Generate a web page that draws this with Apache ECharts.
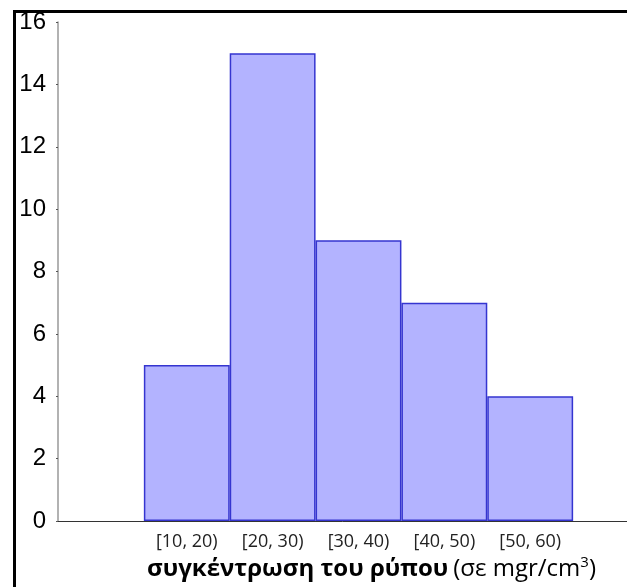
<!DOCTYPE html>
<html>
<head>
<meta charset="utf-8">
<script src="https://cdn.jsdelivr.net/npm/echarts@6/dist/echarts.min.js"></script>
<style>
html, body { margin: 0; padding: 0; background: #fff; }
#chart { width: 627px; height: 587px; }
</style>
</head>
<body>
<div id="chart"></div>
<script>
// κλάσεις συγκέντρωσης (κενές θέσεις αριστερά/δεξιά για το κενό του άξονα)
var categories = ['', '[10, 20)', '[20, 30)', '[30, 40)', '[40, 50)', '[50, 60)', '']
var counts = [null, 5, 15, 9, 7, 4, null]
var yTicks = { min: 0, max: 16, interval: 2 }

var chart = echarts.init(document.getElementById('chart'))
chart.setOption({
  animation: false,
  backgroundColor: '#fff',
  title: {
    left: 142,
    top: 549,
    text: '{b|συγκέντρωση του ρύπου} {n|(σε mgr/cm}{s|3}{n|)}',
    textStyle: {
      fontWeight: 'normal',
      rich: {
        b: { fontFamily: 'Open Sans', fontWeight: 'bold', fontSize: 24, color: '#000', lineHeight: 30 },
        n: { fontFamily: 'Open Sans', fontWeight: 'normal', fontSize: 24, color: '#000', lineHeight: 30 },
        s: { fontFamily: 'Open Sans', fontWeight: 'normal', fontSize: 15, color: '#000', lineHeight: 30, padding: [0, 0, 13, 0] },
      },
    },
  },
  grid: {
    left: 58,
    top: 22,
    height: 499,
    width: 601,
    outerBoundsMode: 'none',
    containLabel: false,
  },
  xAxis: {
    type: 'category',
    data: categories,
    axisLine: { lineStyle: { color: '#333', width: 1 } },
    axisTick: { show: false },
    axisLabel: {
      interval: 0,
      margin: 12,
      fontFamily: 'Open Sans',
      fontSize: 18,
      color: '#222',
    },
  },
  yAxis: {
    type: 'value',
    min: yTicks.min,
    max: yTicks.max,
    interval: yTicks.interval,
    splitLine: { show: false },
    axisLine: { show: true, lineStyle: { color: '#999', width: 1.5 } },
    axisTick: { show: true, length: 2, lineStyle: { color: '#555' } },
    axisLabel: {
      margin: 12,
      fontFamily: 'Liberation Sans',
      fontSize: 24,
      color: '#000',
    },
  },
  series: [
    {
      type: 'bar',
      data: counts,
      barWidth: '100%',
      barCategoryGap: 0,
      itemStyle: {
        color: '#b3b3ff',
        borderColor: '#3535d0',
        borderWidth: 1.5,
      },
    },
  ],
  graphic: [
    // περίγραμμα εικόνας (πάνω και αριστερά)
    { type: 'line', shape: { x1: 13, y1: 11.5, x2: 627, y2: 11.5 }, style: { stroke: '#000', lineWidth: 3 } },
    { type: 'line', shape: { x1: 14.5, y1: 10, x2: 14.5, y2: 587 }, style: { stroke: '#000', lineWidth: 3 } },
  ],
})
</script>
</body>
</html>
